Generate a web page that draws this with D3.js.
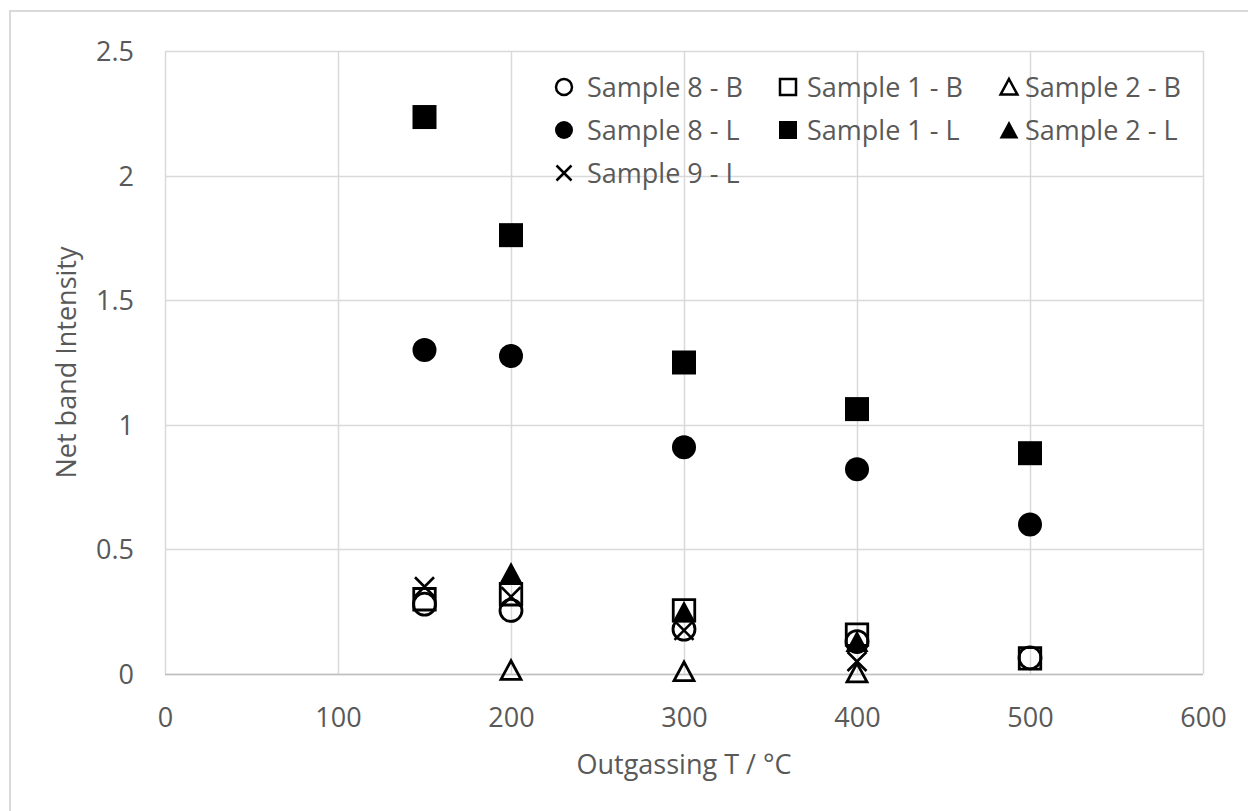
<!DOCTYPE html>
<html>
<head>
<meta charset="utf-8">
<script src="https://cdn.jsdelivr.net/npm/d3@7"></script>
<style>
  html, body { margin: 0; padding: 0; background: #fff; }
  svg { display: block; }
  text { font-family: "Open Sans", sans-serif; fill: #595959; }
</style>
</head>
<body>
<svg id="chart" width="1248" height="811"></svg>
<script>
// ---- data ----
const xTickValues = [0, 100, 200, 300, 400, 500, 600];
const yTickValues = [0, 0.5, 1, 1.5, 2, 2.5];
const yTickLabels = ["0", "0.5", "1", "1.5", "2", "2.5"];

const sample8B_T = [150, 200, 300, 400, 500];
const sample8B   = [0.28, 0.255, 0.18, 0.13, 0.065];
const sample1B_T = [150, 200, 300, 400, 500];
const sample1B   = [0.30, 0.32, 0.255, 0.158, 0.063];
const sample2B_T = [200, 300, 400];
const sample2B   = [0.015, 0.01, 0.005];
const sample8L_T = [150, 200, 300, 400, 500];
const sample8L   = [1.30, 1.276, 0.91, 0.822, 0.60];
const sample1L_T = [150, 200, 300, 400, 500];
const sample1L   = [2.235, 1.761, 1.25, 1.063, 0.886];
const sample2L_T = [200, 300, 400];
const sample2L   = [0.405, 0.25, 0.13];
const sample9L_T = [150, 200, 300, 400];
const sample9L   = [0.35, 0.31, 0.175, 0.05];

const seriesNames = ["Sample 8 - B", "Sample 1 - B", "Sample 2 - B",
                     "Sample 8 - L", "Sample 1 - L", "Sample 2 - L", "Sample 9 - L"];
const seriesT = [sample8B_T, sample1B_T, sample2B_T, sample8L_T, sample1L_T, sample2L_T, sample9L_T];
const seriesV = [sample8B, sample1B, sample2B, sample8L, sample1L, sample2L, sample9L];
const seriesMarker = ["circleOpen", "squareOpen", "triangleOpen", "circle", "square", "triangle", "x"];

const xTitle = "Outgassing T / °C";
const yTitle = "Net band Intensity";

// ---- layout ----
const svg = d3.select("#chart");
const plot = { left: 165, right: 1203, top: 51, bottom: 674 };
const x = d3.scaleLinear().domain([0, 600]).range([plot.left, plot.right]);
const y = d3.scaleLinear().domain([0, 2.5]).range([plot.bottom, plot.top]);

// outer frame
svg.append("rect").attr("x", 10).attr("y", 11).attr("width", 1260).attr("height", 830)
  .attr("fill", "#fff").attr("stroke", "#d9d9d9").attr("stroke-width", 2);

// gridlines
const grid = svg.append("g");
grid.selectAll("line.h").data(yTickValues).join("line")
  .attr("x1", plot.left).attr("x2", plot.right)
  .attr("y1", d => Math.round(y(d)) + 0.5).attr("y2", d => Math.round(y(d)) + 0.5)
  .attr("stroke", "#d9d9d9").attr("stroke-width", 1.5);
grid.selectAll("line.v").data(xTickValues).join("line")
  .attr("y1", plot.top).attr("y2", plot.bottom)
  .attr("x1", d => Math.round(x(d)) + 0.5).attr("x2", d => Math.round(x(d)) + 0.5)
  .attr("stroke", "#d9d9d9").attr("stroke-width", 1.5);
// bottom axis line
svg.append("line").attr("x1", plot.left).attr("x2", plot.right)
  .attr("y1", Math.round(y(0)) + 0.5).attr("y2", Math.round(y(0)) + 0.5)
  .attr("stroke", "#bfbfbf").attr("stroke-width", 1.5);

// axes (labels only)
const xAxis = d3.axisBottom(x).tickValues(xTickValues).tickSize(0).tickPadding(0).tickFormat(d3.format("d"));
const gx = svg.append("g").attr("transform", `translate(0,${plot.bottom})`).call(xAxis);
gx.select(".domain").remove();
gx.selectAll("text").attr("y", 53).attr("dy", null)
  .style("font-size", "27px").style("font-family", "'Open Sans', sans-serif").attr("fill", "#595959");

const yAxis = d3.axisLeft(y).tickValues(yTickValues).tickSize(0).tickPadding(0)
  .tickFormat((d, i) => yTickLabels[i]);
const gy = svg.append("g").attr("transform", `translate(134,0)`).call(yAxis);
gy.select(".domain").remove();
gy.selectAll("text").attr("x", 0).attr("dy", "0.35em")
  .style("font-size", "27px").style("font-family", "'Open Sans', sans-serif").attr("fill", "#595959");

// axis titles
svg.append("text").attr("x", (plot.left + plot.right) / 2).attr("y", 774)
  .attr("text-anchor", "middle").style("font-size", "27px").text(xTitle);
svg.append("text").attr("transform", `translate(76,${(plot.top + plot.bottom) / 2}) rotate(-90)`)
  .attr("text-anchor", "middle").style("font-size", "27px").text(yTitle);

// ---- markers ----
function markerPath(type, s) {
  const h = s / 2;
  switch (type) {
    case "circle": case "circleOpen": {
      const p = d3.path(); p.moveTo(h, 0); p.arc(0, 0, h, 0, 2 * Math.PI); p.closePath(); return p.toString();
    }
    case "square": case "squareOpen":
      return `M${-h},${-h}H${h}V${h}H${-h}Z`;
    case "triangle": case "triangleOpen":
      return `M0,${-h}L${h * 1.05},${h * 0.95}L${-h * 1.05},${h * 0.95}Z`;
    case "x":
      return `M${-h},${-h}L${h},${h}M${h},${-h}L${-h},${h}`;
  }
}
function markerStyle(sel, type) {
  if (type === "circle" || type === "square" || type === "triangle") {
    sel.attr("fill", "#000").attr("stroke", "none");
  } else if (type === "x") {
    sel.attr("fill", "none").attr("stroke", "#000").attr("stroke-width", 2.6);
  } else {
    sel.attr("fill", "none").attr("stroke", "#000").attr("stroke-width", 2.8);
  }
}
const plotSize = { circle: 24, square: 24, triangle: 22, circleOpen: 22, squareOpen: 21.5, triangleOpen: 19, x: 19 };
const legendSize = { circle: 18, square: 18, triangle: 18, circleOpen: 16, squareOpen: 16, triangleOpen: 16, x: 15 };

const marks = svg.append("g");
seriesNames.forEach((name, si) => {
  const type = seriesMarker[si];
  const pts = seriesT[si].map((t, i) => ({ t, v: seriesV[si][i] }));
  marks.append("g").selectAll("path").data(pts).join("path")
    .attr("transform", d => `translate(${x(d.t)},${y(d.v)})`)
    .attr("d", markerPath(type, plotSize[type]))
    .call(markerStyle, type);
});

// ---- legend ----
const legendCols = [564, 788, 1009];
const legendTextX = [587, 807, 1025];
const legendRows = [87, 130, 173];
const legend = svg.append("g");
seriesNames.forEach((name, si) => {
  const col = si < 6 ? si % 3 : 0;
  const row = si < 3 ? 0 : (si < 6 ? 1 : 2);
  const type = seriesMarker[si];
  legend.append("path")
    .attr("transform", `translate(${legendCols[col]},${legendRows[row]})`)
    .attr("d", markerPath(type, legendSize[type]))
    .call(markerStyle, type)
    .attr("stroke-width", type === "x" ? 2.5 : (type.endsWith("Open") ? 2.5 : null));
  legend.append("text").attr("x", legendTextX[col]).attr("y", legendRows[row] + 9.5)
    .style("font-size", "27px").text(name);
});
</script>
</body>
</html>
